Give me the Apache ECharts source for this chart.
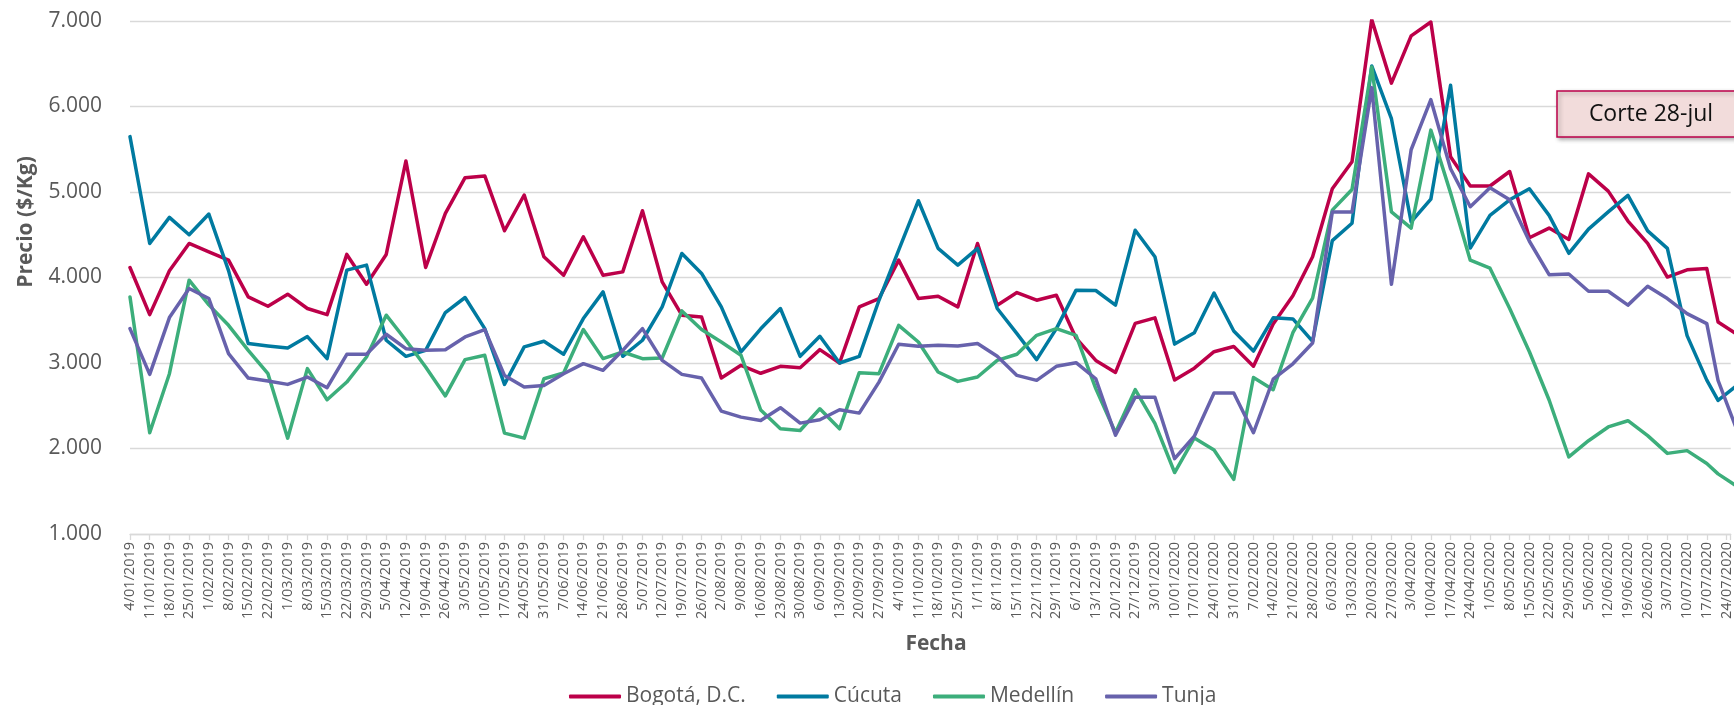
<!DOCTYPE html>
<html>
<head>
<meta charset="utf-8">
<script src="https://cdn.jsdelivr.net/npm/echarts@6/dist/echarts.min.js"></script>
<style>
  html, body { margin: 0; padding: 0; background: #ffffff; }
  #chart { width: 1734px; height: 705px; }
</style>
</head>
<body>
<div id="chart"></div>
<script>
// Tick labels on the date axis (weekly, Fridays)
const etiquetas = [
  '4/01/2019','11/01/2019','18/01/2019','25/01/2019','1/02/2019','8/02/2019','15/02/2019','22/02/2019',
  '1/03/2019','8/03/2019','15/03/2019','22/03/2019','29/03/2019','5/04/2019','12/04/2019','19/04/2019',
  '26/04/2019','3/05/2019','10/05/2019','17/05/2019','24/05/2019','31/05/2019','7/06/2019','14/06/2019',
  '21/06/2019','28/06/2019','5/07/2019','12/07/2019','19/07/2019','26/07/2019','2/08/2019','9/08/2019',
  '16/08/2019','23/08/2019','30/08/2019','6/09/2019','13/09/2019','20/09/2019','27/09/2019','4/10/2019',
  '11/10/2019','18/10/2019','25/10/2019','1/11/2019','8/11/2019','15/11/2019','22/11/2019','29/11/2019',
  '6/12/2019','13/12/2019','20/12/2019','27/12/2019','3/01/2020','10/01/2020','17/01/2020','24/01/2020',
  '31/01/2020','7/02/2020','14/02/2020','21/02/2020','28/02/2020','6/03/2020','13/03/2020','20/03/2020',
  '27/03/2020','3/04/2020','10/04/2020','17/04/2020','24/04/2020','1/05/2020','8/05/2020','15/05/2020',
  '22/05/2020','29/05/2020','5/06/2020','12/06/2020','19/06/2020','26/06/2020','3/07/2020','10/07/2020',
  '17/07/2020','24/07/2020'
];

// Dates of the observations (weekly until 17/07/2020, then 21/07 and the 28/07 cut)
const fechasDatos = etiquetas.slice(0, 81).concat(['21/07/2020', '28/07/2020']);

const bogota = [
  4117,3566,4078,4398,4301,4203,3773,3664,3805,3637,3566,4270,3922,4270,5363,4117,
  4750,5168,5188,4547,4965,4242,4027,4477,4027,4066,4781,3949,3559,3539,2824,2973,
  2880,2961,2945,3156,3000,3656,3754,4203,3754,3781,3656,4398,3676,3824,3734,3793,
  3290,3030,2890,3463,3528,2801,2939,3132,3193,2963,3455,3786,4243,5038,5353,7016,
  6273,6826,6988,5413,5070,5070,5240,4465,4578,4445,5212,5010,4660,4400,4005,4090,
  4105,3480,3330
];
const cucuta = [
  5648,4398,4703,4500,4742,4080,3227,3199,3176,3309,3051,4086,4145,3266,3078,3148,
  3590,3766,3402,2750,3188,3254,3102,3520,3832,3078,3266,3656,4281,4047,3656,3129,
  3400,3637,3078,3313,3000,3078,3734,4320,4898,4340,4145,4340,3637,3344,3039,3402,
  3852,3848,3677,4553,4243,3221,3354,3819,3375,3140,3528,3516,3253,4432,4634,6475,
  5857,4650,4917,6249,4344,4727,4909,5038,4727,4283,4566,4767,4960,4545,4340,3320,
  2800,2562,2746
];
const medellin = [
  3773,2184,2875,3969,3680,3441,3148,2875,2121,2934,2570,2777,3070,3559,3266,2953,
  2615,3039,3090,2180,2121,2816,2883,3391,3051,3129,3051,3059,3609,3391,3246,3090,
  2450,2230,2211,2465,2230,2887,2875,3441,3246,2895,2785,2836,3031,3102,3324,3402,
  3324,2700,2184,2688,2293,1719,2123,1982,1639,2830,2688,3354,3758,4788,5030,6463,
  4767,4578,5724,4990,4202,4109,3637,3132,2567,1901,2091,2252,2325,2150,1943,1975,
  1825,1703,1551
];
const tunja = [
  3402,2867,3531,3871,3754,3109,2824,2789,2750,2836,2711,3102,3102,3336,3168,3148,
  3156,3305,3391,2855,2719,2738,2875,2992,2914,3148,3402,3031,2867,2824,2438,2367,
  2328,2477,2297,2336,2453,2414,2777,3219,3195,3207,3199,3227,3078,2855,2797,2961,
  3004,2816,2155,2600,2600,1881,2143,2648,2648,2184,2810,2991,3233,4767,4767,6221,
  3920,5494,6080,5272,4828,5050,4909,4424,4033,4041,3839,3839,3677,3898,3754,3578,
  3461,2797,2189
];

const nombres = ['Bogotá, D.C.', 'Cúcuta', 'Medellín', 'Tunja'];
const colores = ['#BC0049', '#007AA0', '#3CAE7B', '#6762AC'];

function dias(f) {
  const p = f.split('/').map(Number);
  const t0 = Date.UTC(2019, 0, 4);
  return Math.round((Date.UTC(p[2], p[1] - 1, p[0]) - t0) / 86400000);
}
const xDias = fechasDatos.map(dias);
function pares(vals) { return vals.map((v, i) => [xDias[i], v]); }

function miles(v) { return String(v).replace(/\B(?=(\d{3})+(?!\d))/g, '.'); }

const FONT = "'Open Sans', 'Noto Sans', sans-serif";
const GRAY = '#595959';
const GRID = '#d9d9d9';

const chart = echarts.init(document.getElementById('chart'), null, { renderer: 'canvas' });

const series = [bogota, cucuta, medellin, tunja].map((vals, k) => ({
  name: nombres[k],
  type: 'line',
  data: pares(vals),
  symbol: 'none',
  showSymbol: false,
  clip: true,
  lineStyle: { width: 3.5, color: colores[k], join: 'round', cap: 'round' },
  itemStyle: { color: colores[k] },
  emphasis: { disabled: true }
}));

chart.setOption({
  animation: false,
  backgroundColor: '#ffffff',
  textStyle: { fontFamily: FONT },
  grid: { left: 130, right: 0, top: 21, bottom: 171, containLabel: false },
  xAxis: {
    type: 'value',
    min: 0,
    max: 568.5,
    interval: 7,
    axisLine: { show: true, lineStyle: { color: GRID, width: 1.3 } },
    axisTick: { show: true, length: 6, lineStyle: { color: GRID, width: 1.3 } },
    splitLine: { show: false },
    axisLabel: {
      rotate: 90,
      margin: 8,
      fontSize: 14.5,
      color: GRAY,
      fontFamily: FONT,
      showMinLabel: true,
      showMaxLabel: true,
      formatter: function (v) {
        const i = Math.round(v / 7);
        if (Math.abs(v - i * 7) < 1e-6 && etiquetas[i]) return etiquetas[i];
        return '';
      }
    }
  },
  yAxis: {
    type: 'value',
    min: 1000,
    max: 7000,
    interval: 1000,
    axisLine: { show: false },
    axisTick: { show: false },
    splitLine: { show: true, lineStyle: { color: GRID, width: 1.3 } },
    axisLabel: { fontSize: 21, color: GRAY, margin: 28, fontFamily: FONT, formatter: miles }
  },
  legend: {
    data: nombres,
    left: 564,
    top: 681,
    icon: 'roundRect',
    itemWidth: 52,
    itemHeight: 4,
    itemGap: 31,
    textStyle: { fontSize: 21, color: GRAY, fontFamily: FONT },
    selectedMode: false
  },
  graphic: [
    {
      type: 'text',
      x: 26, y: 222,
      rotation: Math.PI / 2,
      style: {
        text: 'Precio ($/Kg)',
        font: "bold 21px 'Open Sans', sans-serif",
        fill: GRAY,
        align: 'center',
        verticalAlign: 'middle'
      }
    },
    {
      type: 'text',
      x: 936, y: 644,
      style: {
        text: 'Fecha',
        font: "bold 21px 'Open Sans', sans-serif",
        fill: GRAY,
        align: 'center',
        verticalAlign: 'middle'
      }
    },
    {
      type: 'rect',
      z: 100,
      shape: { x: 1557, y: 91, width: 220, height: 46 },
      style: {
        fill: '#F2DCDB',
        stroke: '#BC0049',
        lineWidth: 1.5,
        shadowBlur: 4,
        shadowOffsetX: 2,
        shadowOffsetY: 2,
        shadowColor: 'rgba(0,0,0,0.3)'
      }
    },
    {
      type: 'text',
      z: 101,
      x: 1651, y: 114,
      style: {
        text: 'Corte 28-jul',
        font: "23px 'Open Sans', sans-serif",
        fill: '#111111',
        align: 'center',
        verticalAlign: 'middle'
      }
    }
  ],
  series: series
});
</script>
</body>
</html>
